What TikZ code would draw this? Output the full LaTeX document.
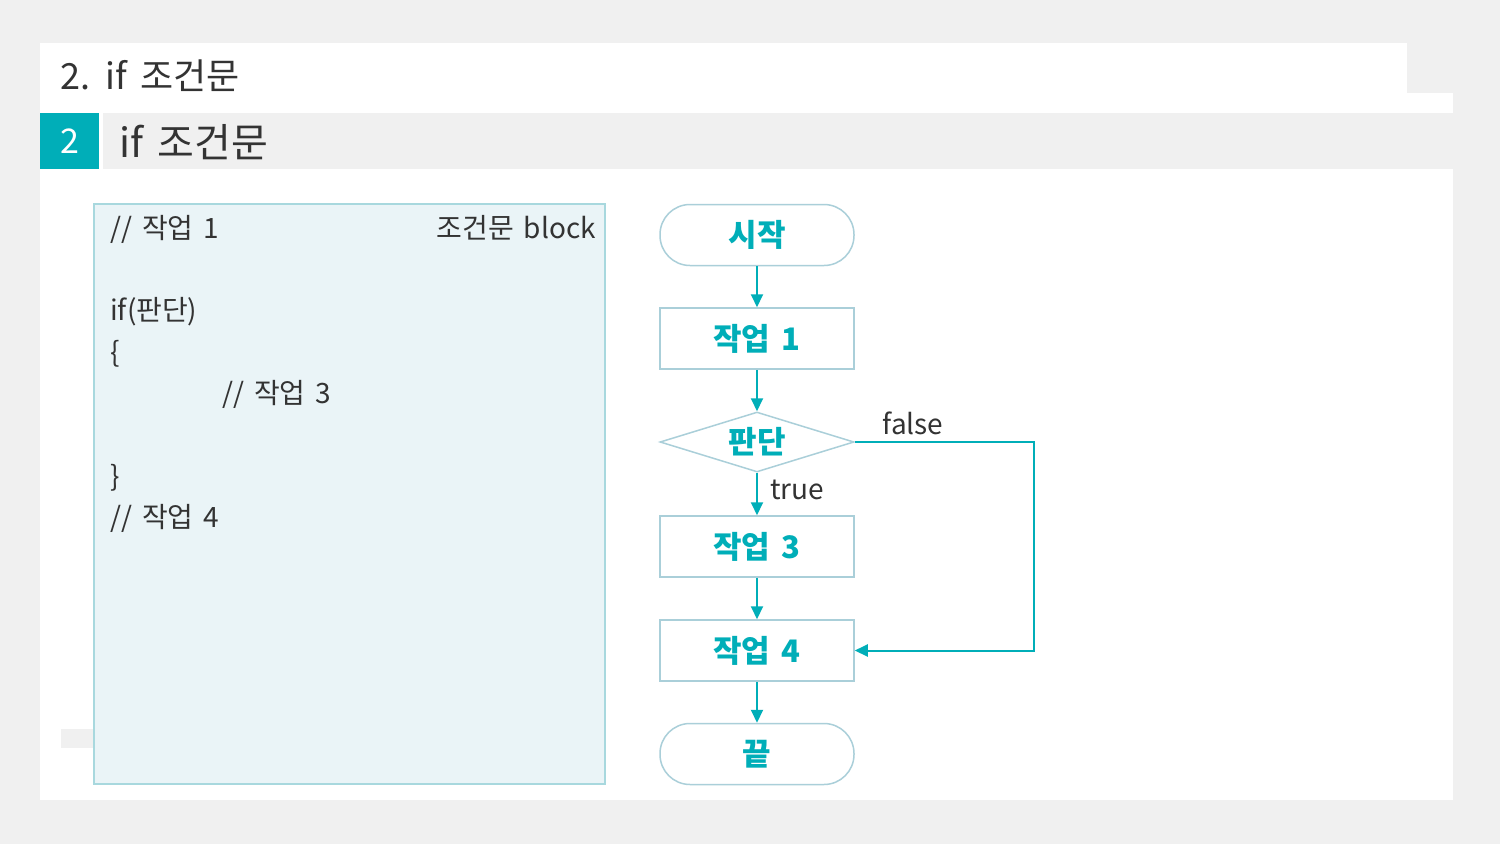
\documentclass[tikz,border=0pt]{standalone}
\usepackage{fontspec}
\setmainfont{Noto Sans CJK KR}[WordSpace=1.6]
\usetikzlibrary{arrows.meta,positioning,shapes.geometric}
\definecolor{pagebg}{RGB}{240,240,240}
\definecolor{tealc}{RGB}{0,174,184}
\definecolor{inkc}{RGB}{51,51,51}
\definecolor{codebg}{RGB}{234,244,247}
\definecolor{codeedge}{RGB}{168,216,222}
\definecolor{flowedge}{RGB}{170,207,217}

\begin{document}
\begin{tikzpicture}[x=1pt, y=-1pt,
  every node/.style={font=\fontsize{28}{34}\selectfont, text=inkc, inner sep=0pt},
  flowbox/.style={draw=flowedge, line width=1.5pt, fill=white, minimum width=194pt,
    minimum height=61pt, text=tealc, font=\fontsize{31}{38}\selectfont\bfseries},
  flowterm/.style={flowbox, rounded corners=30pt},
  flowtest/.style={flowbox, diamond, aspect=3.2, minimum height=60pt},
  flowarr/.style={-{Triangle[length=13pt,width=12pt]}, tealc, line width=2pt}]
% ---- page frame
\fill[pagebg] (0,0) rectangle (1500,844);
\fill[white] (40,43) rectangle (1407,113);
\fill[white] (40,93) rectangle (1453,800);
\fill[pagebg] (103,113) rectangle (1453,169);
\fill[tealc] (40,113) rectangle (99,169);
\fill[pagebg] (61,729) rectangle (93,748);
\node[anchor=base west, font=\fontsize{36}{42}\selectfont] (pagetitle) at (60,89) {2. if 조건문};
\node[font=\fontsize{34}{40}\selectfont, text=white] (secnum) at (70,141) {2};
\node[anchor=base west, font=\fontsize{40}{46}\selectfont] (sectitle) at (119,157) {if 조건문};
% ---- left: code block
\fill[codebg, draw=codeedge, line width=1.5pt] (94,204) rectangle (605,784);
\node[anchor=base east] (blocklbl) at (596,238) {조건문 block};
\node[anchor=base west] (code1) at (110,238) {// 작업 1};
\node[anchor=base west] (code2) at (110,320) {if(판단)};
\node[anchor=base west] (code3) at (110,362) {\{};
\node[anchor=base west] (code4) at (222,403) {// 작업 3};
\node[anchor=base west] (code5) at (110,486) {\}};
\node[anchor=base west] (code6) at (110,527) {// 작업 4};
% ---- right: flowchart
\node[flowterm] (start) at (757,235) {시작};
\node[flowbox]  (work1) at (757,338.5) {작업 1};
\node[flowtest] (test)  at (757,442) {판단};
\node[flowbox]  (work3) at (757,546.5) {작업 3};
\node[flowbox]  (work4) at (757,650.5) {작업 4};
\node[flowterm] (stop)  at (757,754) {끝};
\coordinate (falsecorner) at (1034,442);
\draw[flowarr] (start) -- (work1);
\draw[flowarr] (work1) -- (test);
\draw[flowarr] (test) -- (work3);
\draw[flowarr] (work3) -- (work4);
\draw[flowarr] (work4) -- (stop);
\draw[flowarr] (test.east) -- (falsecorner) |- (work4.east);
\node (falselbl) at (913,423) {false};
\node (truelbl) at (797,490) {true};
\end{tikzpicture}
\end{document}
